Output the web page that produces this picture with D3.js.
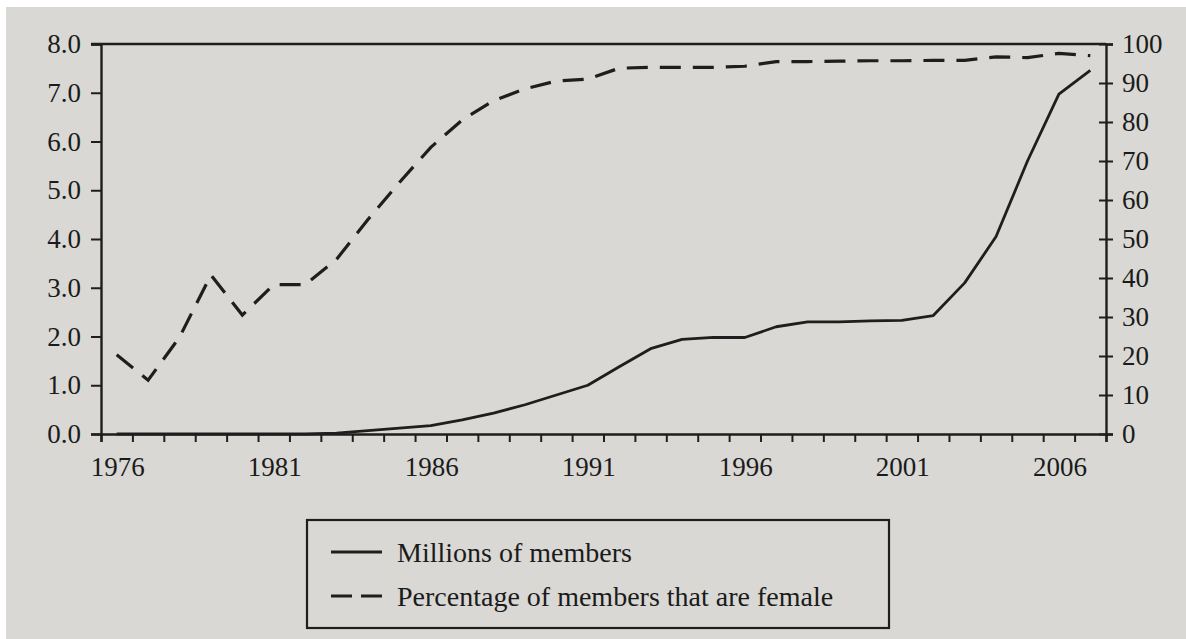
<!DOCTYPE html>
<html>
<head>
<meta charset="utf-8">
<script src="https://cdn.jsdelivr.net/npm/d3@7"></script>
<style>
  html, body { margin: 0; padding: 0; background: #ffffff; }
  svg { display: block; }
  text { font-family: "Liberation Serif", "DejaVu Serif", serif; fill: #1b1b1b; }
</style>
</head>
<body>
<div class="main"></div>
<script>
// categories (one per year)
const years = [1976, 1977, 1978, 1979, 1980, 1981, 1982, 1983, 1984, 1985, 1986,
  1987, 1988, 1989, 1990, 1991, 1992, 1993, 1994, 1995, 1996, 1997, 1998, 1999,
  2000, 2001, 2002, 2003, 2004, 2005, 2006, 2007];

// millions of members (left axis)
const members = [0.0, 0.0, 0.0, 0.0, 0.0, 0.0, 0.0, 0.02, 0.07, 0.12, 0.17,
  0.29, 0.43, 0.6, 0.8, 1.0, 1.38, 1.75, 1.94, 1.98, 1.98, 2.2, 2.3, 2.3,
  2.32, 2.33, 2.43, 3.1, 4.05, 5.6, 6.97, 7.46];

// percentage of members that are female (right axis)
const female = [20.3, 13.8, 24.8, 40.8, 30.5, 38.3, 38.3, 44.8, 55, 64.5, 73.5,
  80.5, 85.5, 88.5, 90.5, 91, 93.8, 94, 94, 94, 94.3, 95.5, 95.5, 95.6,
  95.7, 95.7, 95.8, 95.8, 96.7, 96.5, 97.6, 97];

const leftTicks = [0, 1, 2, 3, 4, 5, 6, 7, 8];
const rightTicks = [0, 10, 20, 30, 40, 50, 60, 70, 80, 90, 100];
const yearLabels = [1976, 1981, 1986, 1991, 1996, 2001, 2006];

const legendItems = [
  { name: "Millions of members", dash: null },
  { name: "Percentage of members that are female", dash: "21,9" },
];

let fullwidth = 1186;
let fullheight = 639;
let plot = { left: 101, right: 1106, top: 44, bottom: 434 };
const ink = "#1e1e1e";

const svg = d3
  .select(".main")
  .append("svg")
  .attr("width", fullwidth)
  .attr("height", fullheight);

// paper
svg.append("rect")
  .attr("x", 6).attr("y", 7)
  .attr("width", fullwidth - 6).attr("height", fullheight - 7)
  .attr("fill", "#d9d8d4");

const x = d3.scaleLinear()
  .domain([years[0] - 0.5, years[years.length - 1] + 0.5])
  .range([plot.left, plot.right]);
const yL = d3.scaleLinear().domain([0, 8]).range([plot.bottom, plot.top]);
const yR = d3.scaleLinear().domain([0, 100]).range([plot.bottom, plot.top]);

// bottom axis: tick at every category boundary, labels centred in category
const boundaries = years.map((d) => d - 0.5).concat([years[years.length - 1] + 0.5]);
const xAxis = svg.append("g")
  .attr("transform", "translate(0," + plot.bottom + ")")
  .call(d3.axisBottom(x).tickValues(boundaries).tickSize(8).tickFormat(""));
xAxis.select(".domain").attr("stroke", ink).attr("stroke-width", 2.4);
xAxis.selectAll(".tick line").attr("stroke", ink).attr("stroke-width", 2);

svg.append("g")
  .selectAll("text")
  .data(yearLabels)
  .join("text")
  .attr("x", (d) => x(d) + 1)
  .attr("y", 476)
  .attr("text-anchor", "middle")
  .attr("font-size", 27)
  .text((d) => d);

// left axis
const leftAxis = svg.append("g")
  .attr("transform", "translate(" + plot.left + ",0)")
  .call(d3.axisLeft(yL).tickValues(leftTicks).tickSize(10).tickPadding(10)
    .tickFormat(d3.format(".1f")));
leftAxis.select(".domain").attr("stroke", ink).attr("stroke-width", 2.4);
leftAxis.selectAll(".tick line").attr("stroke", ink).attr("stroke-width", 2);
leftAxis.selectAll("text").attr("font-size", 27).attr("fill", ink)
  .style("font-family", '"Liberation Serif", serif');

// right axis, ticks cross the line
const rightAxis = svg.append("g")
  .attr("transform", "translate(" + plot.right + ",0)")
  .call(d3.axisRight(yR).tickValues(rightTicks).tickSize(7).tickPadding(9));
rightAxis.select(".domain").attr("stroke", ink).attr("stroke-width", 2.4);
rightAxis.selectAll(".tick line").attr("x1", -7).attr("stroke", ink).attr("stroke-width", 2);
rightAxis.selectAll("text").attr("font-size", 27).attr("fill", ink)
  .style("font-family", '"Liberation Serif", serif');

// top frame line
svg.append("line")
  .attr("x1", plot.left - 10).attr("x2", plot.right)
  .attr("y1", plot.top).attr("y2", plot.top)
  .attr("stroke", ink).attr("stroke-width", 2.4);

// series
const line = (ys, vals) => d3.line()
  .x((d, i) => x(years[i]))
  .y((d) => ys(d))(vals);

svg.append("path")
  .attr("d", line(yL, members))
  .attr("fill", "none")
  .attr("stroke", ink)
  .attr("stroke-width", 2.8)
  .attr("stroke-linejoin", "round");

svg.append("path")
  .attr("d", line(yR, female))
  .attr("fill", "none")
  .attr("stroke", ink)
  .attr("stroke-width", 3.2)
  .attr("stroke-dasharray", "21,12");

// legend
const lg = svg.append("g").attr("transform", "translate(307,520)");
lg.append("rect")
  .attr("width", 582).attr("height", 108)
  .attr("fill", "none").attr("stroke", ink).attr("stroke-width", 2.2);

legendItems.forEach((item, i) => {
  const yy = 32 + i * 44;
  lg.append("line")
    .attr("x1", 24).attr("x2", 75)
    .attr("y1", yy).attr("y2", yy)
    .attr("stroke", ink).attr("stroke-width", 2.8)
    .attr("stroke-dasharray", item.dash);
  lg.append("text")
    .attr("x", 90).attr("y", yy + 10)
    .attr("font-size", 28)
    .text(item.name);
});
</script>
</body>
</html>
